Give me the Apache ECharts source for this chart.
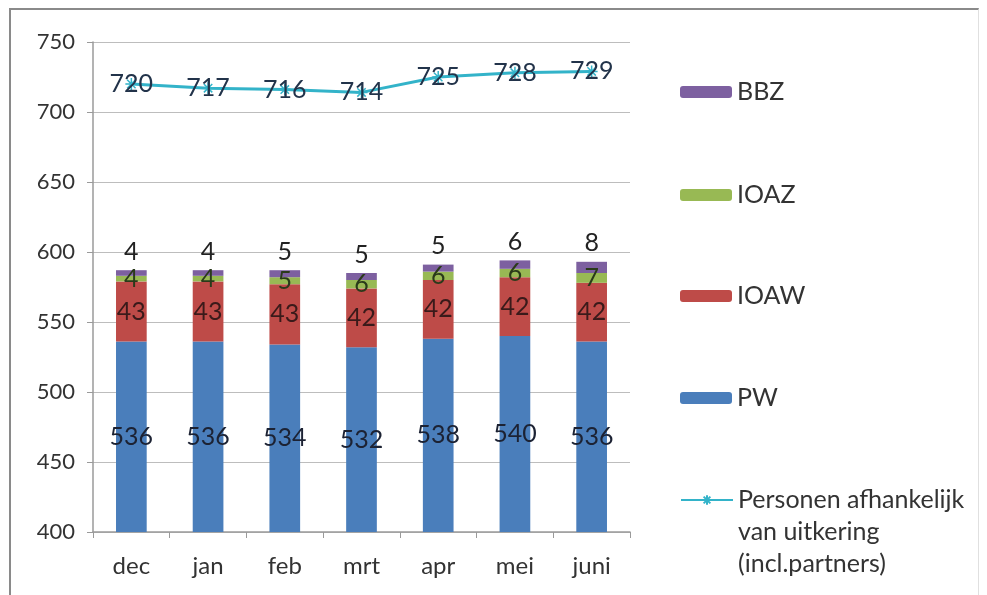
<!DOCTYPE html>
<html><head><meta charset="utf-8">
<script src="https://cdn.jsdelivr.net/npm/echarts@6/dist/echarts.min.js"></script>
<style>
html,body{margin:0;padding:0;background:#fff;}
#frame{position:absolute;left:9px;top:8px;width:967px;height:590px;border-left:2px solid #8a8a8a;border-top:2px solid #8a8a8a;border-right:1px solid #e0e0e0;}
#c{position:absolute;left:0;top:0;width:987px;height:595px;}
</style></head>
<body><div id="frame"></div><div id="c"></div>
<script>
const categories = ['dec','jan','feb','mrt','apr','mei','juni'];
const pw   = [536,536,534,532,538,540,536];
const ioaw = [43,43,43,42,42,42,42];
const ioaz = [4,4,5,6,6,6,7];
const bbz  = [4,4,5,5,5,6,8];
const personen = [720,717,716,714,725,728,729];
const yTicks = {min:400, max:750, interval:50};
const lineName = 'Personen afhankelijk\nvan uitkering\n(incl.partners)';

const FONT = 'Lato';
const chart = echarts.init(document.getElementById('c'));
const lbl = {show:true, fontFamily:FONT, fontSize:25, color:'#1c2233'};
const LH = 32;
function legendAt(name, centerY, extra){
  return Object.assign({
    data:[name], left:680, top:centerY - LH/2, orient:'vertical', padding:0,
    itemWidth:52, itemHeight:12, itemGap:8,
    textStyle:{fontFamily:FONT, fontSize:25, color:'#333', lineHeight:LH}
  }, extra||{});
}
chart.setOption({
  animation:false,
  grid:{left:93, right:357, top:42, bottom:63},
  legend:[
    legendAt('BBZ', 92),
    legendAt('IOAZ', 195),
    legendAt('IOAW', 296),
    legendAt('PW', 398),
    legendAt(lineName, 500 - 2*LH, {formatter:function(n){return '\n\n' + n;}})
  ],
  xAxis:{type:'category', data:categories, boundaryGap:true,
    axisLine:{lineStyle:{color:'#9a9a9a', width:1.5}},
    axisTick:{show:true, length:6, lineStyle:{color:'#9a9a9a'}},
    axisLabel:{fontFamily:FONT, fontSize:24, color:'#333', margin:22}},
  yAxis:{type:'value', min:yTicks.min, max:yTicks.max, interval:yTicks.interval,
    axisLine:{show:true, lineStyle:{color:'#9a9a9a', width:1.5}},
    axisTick:{show:true, length:6, lineStyle:{color:'#9a9a9a'}},
    splitLine:{lineStyle:{color:'#bdbdbd', width:1.2}},
    axisLabel:{fontFamily:FONT, fontSize:22, color:'#333', margin:18}},
  series:[
    {name:'PW', type:'bar', stack:'s', data:pw, barWidth:'40%', itemStyle:{color:'#4a7ebb'},
      label:Object.assign({position:'inside'}, lbl)},
    {name:'IOAW', type:'bar', stack:'s', data:ioaw, itemStyle:{color:'#be4b48'},
      label:Object.assign({position:'inside'}, lbl, {color:'#3a1a1a'})},
    {name:'IOAZ', type:'bar', stack:'s', data:ioaz, itemStyle:{color:'#98b954'},
      label:Object.assign({position:'inside'}, lbl, {color:'#2a3a1a'})},
    {name:'BBZ', type:'bar', stack:'s', data:bbz, itemStyle:{color:'#7d60a0'},
      label:Object.assign({position:'top', distance:6}, lbl, {color:'#222'})},
    {name:lineName, type:'line', data:personen, z:5,
      lineStyle:{color:'#33b3c9', width:3}, itemStyle:{color:'#33b3c9', borderColor:'#33b3c9', borderWidth:1.5},
      symbol:'path://M0,5L10,5M5,0L5,10M1.5,1.5L8.5,8.5M8.5,1.5L1.5,8.5', symbolSize:12,
      label:Object.assign({position:'inside'}, lbl, {color:'#22334a'})}
  ]
});
</script></body></html>
